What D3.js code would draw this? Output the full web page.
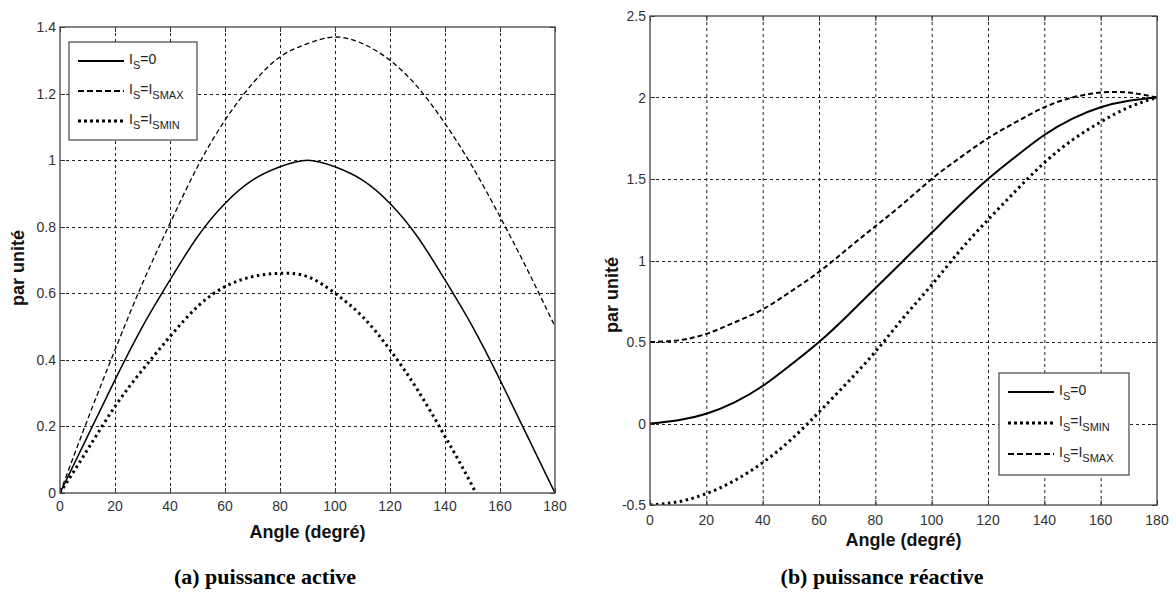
<!DOCTYPE html>
<html>
<head>
<meta charset="utf-8">
<script src="https://cdn.jsdelivr.net/npm/d3@7"></script>
<style>
  html, body { margin: 0; padding: 0; background: #fff; }
  svg { display: block; }
  .tick-label { font-family: "Liberation Sans", Arial, sans-serif; font-size: 14px; fill: #333; }
  .axis-title { font-family: "Liberation Sans", Arial, sans-serif; font-size: 18px; font-weight: bold; fill: #111; }
  .caption { font-family: "Liberation Serif", "Times New Roman", serif; font-size: 22px; font-weight: bold; fill: #000; }
  .legend-text { font-family: "Liberation Sans", Arial, sans-serif; font-size: 14px; fill: #222; }
</style>
</head>
<body>
<svg id="chart" width="1176" height="599"></svg>
<script>
// angle (degrés) sampled every 10
const angles = [0, 10, 20, 30, 40, 50, 60, 70, 80, 90, 100, 110, 120, 130, 140, 150, 160, 170, 180];

// (a) puissance active
const activeIs0 = [0, 0.17, 0.34, 0.5, 0.64, 0.77, 0.87, 0.94, 0.98, 1.0, 0.98, 0.94, 0.87, 0.77, 0.64, 0.5, 0.34, 0.17, 0];
const activeIsMax = [0, 0.22, 0.43, 0.63, 0.81, 0.98, 1.12, 1.23, 1.31, 1.35, 1.37, 1.35, 1.3, 1.22, 1.11, 0.98, 0.83, 0.67, 0.5];
const activeIsMin = [0, 0.13, 0.26, 0.37, 0.47, 0.56, 0.62, 0.65, 0.66, 0.65, 0.6, 0.53, 0.43, 0.31, 0.17, 0.02, -0.15, -0.32, -0.5];

// (b) puissance réactive
const reactiveIs0 = [0, 0.02, 0.06, 0.13, 0.23, 0.36, 0.5, 0.66, 0.83, 1.0, 1.17, 1.34, 1.5, 1.64, 1.77, 1.87, 1.94, 1.98, 2.0];
const reactiveIsMin = [-0.5, -0.48, -0.43, -0.35, -0.24, -0.1, 0.07, 0.25, 0.44, 0.65, 0.85, 1.06, 1.25, 1.43, 1.6, 1.74, 1.85, 1.94, 2.0];
const reactiveIsMax = [0.5, 0.51, 0.55, 0.62, 0.7, 0.81, 0.93, 1.07, 1.21, 1.35, 1.5, 1.63, 1.75, 1.85, 1.94, 2.0, 2.03, 2.03, 2.0];

const xTicks = [0, 20, 40, 60, 80, 100, 120, 140, 160, 180];
const activeYTicks = [0, 0.2, 0.4, 0.6, 0.8, 1, 1.2, 1.4];
const reactiveYTicks = [-0.5, 0, 0.5, 1, 1.5, 2, 2.5];

const lineStyles = {
  solid: { dash: null },
  dashed: { dash: "5,3" },
  dotted: { dash: "2.5,3.5" },
};

const svg = d3.select("#chart");
svg.append("rect").attr("width", 1176).attr("height", 599).attr("fill", "#fff");

function drawPanel({ id, box, yDomain, yTicks, series, legend, yTitle, caption, widths }) {
  const x = d3.scaleLinear().domain([0, 180]).range([box.left, box.right]);
  const y = d3.scaleLinear().domain(yDomain).range([box.bottom, box.top]);
  const g = svg.append("g").attr("class", "panel-" + id);

  g.append("clipPath").attr("id", "clip-" + id)
    .append("rect")
    .attr("x", box.left).attr("y", box.top)
    .attr("width", box.right - box.left).attr("height", box.bottom - box.top);

  // grid
  const grid = g.append("g").attr("stroke", "#222").attr("stroke-width", 1).attr("stroke-dasharray", "3,3");
  grid.selectAll(".gx").data(xTicks.slice(1, -1)).join("line")
    .attr("x1", (d) => x(d) + 0.5).attr("x2", (d) => x(d) + 0.5)
    .attr("y1", box.top).attr("y2", box.bottom);
  grid.selectAll(".gy").data(yTicks.slice(1, -1)).join("line")
    .attr("y1", (d) => Math.round(y(d)) + 0.5).attr("y2", (d) => Math.round(y(d)) + 0.5)
    .attr("x1", box.left).attr("x2", box.right);

  // inside ticks on all four sides
  const ticks = g.append("g").attr("stroke", "#333").attr("stroke-width", 1);
  xTicks.forEach((d) => {
    ticks.append("line").attr("x1", x(d) + 0.5).attr("x2", x(d) + 0.5).attr("y1", box.bottom).attr("y2", box.bottom - 5);
    ticks.append("line").attr("x1", x(d) + 0.5).attr("x2", x(d) + 0.5).attr("y1", box.top).attr("y2", box.top + 5);
  });
  yTicks.forEach((d) => {
    const yy = Math.round(y(d)) + 0.5;
    ticks.append("line").attr("x1", box.left).attr("x2", box.left + 5).attr("y1", yy).attr("y2", yy);
    ticks.append("line").attr("x1", box.right).attr("x2", box.right - 5).attr("y1", yy).attr("y2", yy);
  });

  // curves
  const line = d3.line()
    .x((d) => x(d[0]))
    .y((d) => y(d[1]))
    .curve(d3.curveNatural);
  const curves = g.append("g").attr("clip-path", `url(#clip-${id})`);
  series.forEach((s) => {
    curves.append("path")
      .datum(angles.map((a, i) => [a, s.values[i]]))
      .attr("fill", "none")
      .attr("stroke", "#000")
      .attr("stroke-width", widths[s.style])
      .attr("stroke-dasharray", lineStyles[s.style].dash)
      .attr("d", line);
  });

  // frame
  g.append("rect")
    .attr("x", box.left).attr("y", box.top)
    .attr("width", box.right - box.left).attr("height", box.bottom - box.top)
    .attr("fill", "none").attr("stroke", "#444").attr("stroke-width", 1.3);

  // tick labels
  g.selectAll(".xl").data(xTicks).join("text")
    .attr("class", "tick-label")
    .attr("x", (d) => x(d)).attr("y", box.bottom + box.xLabelGap)
    .attr("text-anchor", "middle")
    .text((d) => d);
  g.selectAll(".yl").data(yTicks).join("text")
    .attr("class", "tick-label")
    .attr("x", box.left - 4).attr("y", (d) => y(d) + 5)
    .attr("text-anchor", "end")
    .text((d) => d);

  // titles
  g.append("text").attr("class", "axis-title")
    .attr("x", (box.left + box.right) / 2).attr("y", box.xTitleY)
    .attr("text-anchor", "middle").text("Angle (degré)");
  g.append("text").attr("class", "axis-title")
    .attr("transform", `translate(${yTitle.x},${yTitle.y}) rotate(-90)`)
    .attr("text-anchor", "middle").text("par unité");
  g.append("text").attr("class", "caption")
    .attr("x", caption.x).attr("y", caption.y)
    .attr("text-anchor", "middle").text(caption.text);

  // legend
  const lg = g.append("g");
  lg.append("rect")
    .attr("x", legend.x).attr("y", legend.y)
    .attr("width", legend.w).attr("height", legend.h)
    .attr("fill", "#fff").attr("stroke", "#444").attr("stroke-width", 1.2);
  legend.rows.forEach((r, i) => {
    const yy = legend.y + legend.firstRow + i * legend.rowGap;
    lg.append("line")
      .attr("x1", legend.x + 9).attr("x2", legend.x + 55)
      .attr("y1", yy).attr("y2", yy)
      .attr("stroke", "#000").attr("stroke-width", r.style === "dotted" ? 3 : 2)
      .attr("stroke-dasharray", r.style === "dashed" ? "6,3" : r.style === "dotted" ? "3,3" : null);
    const t = lg.append("text").attr("class", "legend-text")
      .attr("x", legend.x + 60).attr("y", yy + 3);
    t.append("tspan").text("I");
    t.append("tspan").attr("dy", 5).attr("font-size", 11).text("S");
    if (r.sub) {
      t.append("tspan").attr("dy", -5).text("=I");
      t.append("tspan").attr("dy", 5).attr("font-size", 11).text(r.sub);
    } else {
      t.append("tspan").attr("dy", -5).text("=0");
    }
  });
}

drawPanel({
  id: "active",
  box: { left: 60, right: 555, top: 27, bottom: 493, xLabelGap: 18, xTitleY: 538 },
  yDomain: [0, 1.4],
  yTicks: activeYTicks,
  series: [
    { values: activeIs0, style: "solid" },
    { values: activeIsMax, style: "dashed" },
    { values: activeIsMin, style: "dotted" },
  ],
  widths: { solid: 1.5, dashed: 1.3, dotted: 3 },
  legend: {
    x: 69, y: 42, w: 128, h: 98, firstRow: 19, rowGap: 30,
    rows: [
      { style: "solid" },
      { style: "dashed", sub: "SMAX" },
      { style: "dotted", sub: "SMIN" },
    ],
  },
  yTitle: { x: 24, y: 268 },
  caption: { x: 265, y: 584, text: "(a) puissance active" },
});

drawPanel({
  id: "reactive",
  box: { left: 650, right: 1157, top: 16, bottom: 505, xLabelGap: 20, xTitleY: 546 },
  yDomain: [-0.5, 2.5],
  yTicks: reactiveYTicks,
  series: [
    { values: reactiveIs0, style: "solid" },
    { values: reactiveIsMin, style: "dotted" },
    { values: reactiveIsMax, style: "dashed" },
  ],
  widths: { solid: 2, dashed: 2, dotted: 3 },
  legend: {
    x: 999, y: 373, w: 130, h: 102, firstRow: 19, rowGap: 31,
    rows: [
      { style: "solid" },
      { style: "dotted", sub: "SMIN" },
      { style: "dashed", sub: "SMAX" },
    ],
  },
  yTitle: { x: 618, y: 295 },
  caption: { x: 882, y: 584, text: "(b) puissance réactive" },
});
</script>
</body>
</html>
